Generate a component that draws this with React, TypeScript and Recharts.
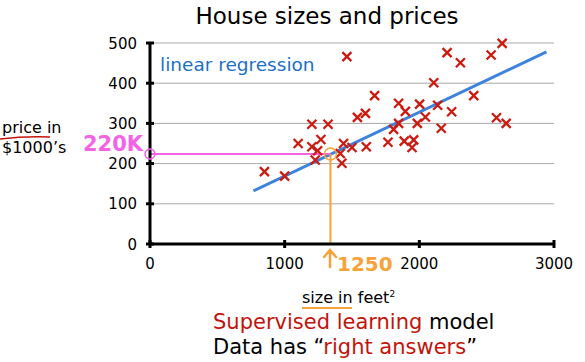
import { ScatterChart, Scatter, XAxis, YAxis, CartesianGrid, ReferenceLine, ReferenceDot } from "recharts"

// house size (feet^2) and price ($1000's)
const sizes = [
  850, 1000, 1100, 1202, 1322, 1269, 1202, 1245, 1227, 1462, 1437, 1413, 1425, 1500, 1540, 1600, 1668, 1606, 1767, 1846,
  1896, 1846, 1809, 1888, 1958, 1946, 2002, 1985, 2045, 2107, 2136, 2163, 2240, 2206, 2305, 2404, 2533, 2615, 2573, 2645,
]
const prices = [
  180, 169, 250, 298, 298, 260, 242, 232, 209, 466, 250, 225, 201, 240, 315, 325, 369, 242, 253, 350,
  330, 300, 285, 256, 259, 240, 348, 300, 316, 401, 345, 288, 329, 476, 451, 369, 470, 499, 314, 300,
]

const xTicks = [0, 1000, 2000, 3000]
const yTicks = [0, 100, 200, 300, 400, 500]

// fitted line end points
const fitX = [768, 2944]
const fitY = [132, 478]

// prediction annotation
const predictX = 1340
const predictY = 224

const data = sizes.map((s, i) => ({ x: s, y: prices[i] }))

const FONT = "DejaVu Sans, Verdana, sans-serif"
const RED = "#c3130b"
const PINK = "#f462e6"
const ORANGE = "#f8a33a"

function Cross({ cx, cy }: any) {
  const s = 4.5
  return (
    <path
      d={`M${cx - s},${cy - s}L${cx + s},${cy + s}M${cx + s},${cy - s}L${cx - s},${cy + s}`}
      stroke="#cc1a10"
      strokeWidth={2.3}
      fill="none"
    />
  )
}

function XTick({ x, y, payload }: any) {
  return (
    <g>
      <line x1={x} x2={x} y1={y - 4} y2={y + 4} stroke="#000" strokeWidth={3} />
      <text x={x} y={y + 25} textAnchor="middle" fontSize={15} fontFamily={FONT} fill="#000">
        {payload.value}
      </text>
    </g>
  )
}

function YTick({ x, y, payload }: any) {
  return (
    <g>
      <line x1={x - 4} x2={x + 4} y1={y} y2={y} stroke="#000" strokeWidth={3} />
      <text x={x - 13} y={y + 5.5} textAnchor="end" fontSize={15} fontFamily={FONT} fill="#000">
        {payload.value}
      </text>
    </g>
  )
}

export default function App() {
  return (
    <div style={{ position: "absolute", left: 0, top: 0, width: 585, height: 362, background: "#fff", fontFamily: FONT }}>
      <ScatterChart width={585} height={362} margin={{ top: 43, right: 31, left: 90, bottom: 88 }}>
        <CartesianGrid vertical={false} stroke="#a8a8a8" strokeWidth={1} />
        <XAxis
          type="number"
          dataKey="x"
          domain={[0, 3000]}
          ticks={xTicks}
          height={30}
          tickSize={0}
          tickMargin={0}
          tickLine={false}
          axisLine={{ stroke: "#000", strokeWidth: 3 }}
          tick={<XTick />}
        />
        <YAxis
          type="number"
          dataKey="y"
          domain={[0, 500]}
          ticks={yTicks}
          width={60}
          tickSize={0}
          tickMargin={0}
          tickLine={false}
          axisLine={{ stroke: "#000", strokeWidth: 3 }}
          tick={<YTick />}
        />
        <Scatter data={data} shape={<Cross />} isAnimationActive={false} />
        <ReferenceLine
          segment={[{ x: fitX[0], y: fitY[0] }, { x: fitX[1], y: fitY[1] }]}
          stroke="#3d82dc"
          strokeWidth={3}
        />
        <ReferenceLine
          segment={[{ x: 0, y: predictY }, { x: predictX, y: predictY }]}
          stroke={PINK}
          strokeWidth={2}
        />
        <ReferenceLine
          segment={[{ x: predictX, y: predictY }, { x: predictX, y: 0 }]}
          stroke={ORANGE}
          strokeWidth={2}
        />
        <ReferenceDot x={0} y={predictY} r={5} fill="none" stroke={PINK} strokeWidth={1.5} />
        <ReferenceDot x={predictX} y={predictY} r={6} fill="none" stroke={ORANGE} strokeWidth={1.5} />
      </ScatterChart>

      <svg width={585} height={362} style={{ position: "absolute", left: 0, top: 0, pointerEvents: "none" }}>
        <path d="M0,139 Q25,136 50,137" stroke={RED} strokeWidth={1.5} fill="none" />
        <path d="M302,308 L352,308" stroke={ORANGE} strokeWidth={2} fill="none" />
        <path d="M330,250 L330,267 M324,257 L330,250 L336,257" stroke={ORANGE} strokeWidth={2.5} fill="none" strokeLinecap="round" />
      </svg>

      <div style={{ position: "absolute", left: 127, width: 400, top: 2, textAlign: "center", fontSize: 23, lineHeight: "28px", color: "#000" }}>
        House sizes and prices
      </div>
      <div style={{ position: "absolute", left: 160, top: 54, fontSize: 18.5, lineHeight: "22px", color: "#1c70c6" }}>
        linear regression
      </div>
      <div style={{ position: "absolute", left: 2, top: 118, fontSize: 16, lineHeight: "20px", color: "#000" }}>
        price in
        <br />
        $1000’s
      </div>
      <div style={{ position: "absolute", left: 83, top: 133, fontSize: 21, fontWeight: "bold", lineHeight: "22px", color: PINK }}>
        220K
      </div>
      <div style={{ position: "absolute", left: 337, top: 253, fontSize: 20, fontWeight: "bold", lineHeight: "22px", color: ORANGE }}>
        1250
      </div>
      <div style={{ position: "absolute", left: 302, top: 284, fontSize: 16, lineHeight: "20px", color: "#000" }}>
        size in feet<sup style={{ fontSize: 9 }}>2</sup>
      </div>
      <div style={{ position: "absolute", left: 213, top: 310, fontSize: 21, lineHeight: "24px", color: "#000", whiteSpace: "nowrap" }}>
        <span style={{ color: RED }}>Supervised learning</span> model
      </div>
      <div style={{ position: "absolute", left: 213, top: 335, fontSize: 21, lineHeight: "24px", color: "#000", whiteSpace: "nowrap" }}>
        Data has “<span style={{ color: RED }}>right answers</span>”
      </div>
    </div>
  )
}
